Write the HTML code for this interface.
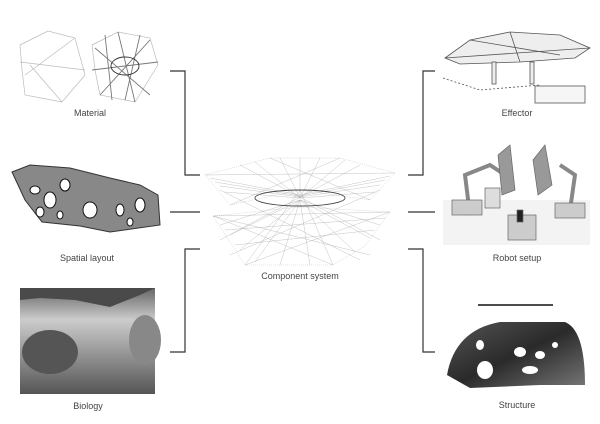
<!DOCTYPE html>
<html><head><meta charset="utf-8"><style>
html,body{margin:0;padding:0;background:#fff}
svg{display:block}
text{font-family:"Liberation Sans",sans-serif;font-size:9px;fill:#444}
</style></head><body>
<svg width="600" height="424" viewBox="0 0 600 424">
<defs>
<linearGradient id="bio" x1="0" y1="0" x2="0" y2="1"><stop offset="0" stop-color="#666"/><stop offset="0.3" stop-color="#ccc"/><stop offset="0.6" stop-color="#999"/><stop offset="1" stop-color="#555"/></linearGradient>
<linearGradient id="dome" x1="0" y1="0" x2="1" y2="1"><stop offset="0" stop-color="#555"/><stop offset="0.5" stop-color="#2a2a2a"/><stop offset="1" stop-color="#777"/></linearGradient>
</defs>
<g stroke="#333" stroke-width="1.2" fill="none">
<polyline points="170,71 185,71 185,175 200,175"/>
<line x1="170" y1="212" x2="200" y2="212"/>
<polyline points="200,249 185,249 185,352 170,352"/>
<polyline points="435,71 423,71 423,175 408,175"/>
<line x1="408" y1="212" x2="435" y2="212"/>
<polyline points="408,249 423,249 423,352 435,352"/>
</g>
<!-- Material -->
<g stroke="#bbb" stroke-width="0.7" fill="none">
<polygon points="20,45 48,31 75,38 85,75 62,102 25,95 22,70"/>
<line x1="20" y1="62" x2="85" y2="70"/><line x1="25" y1="75" x2="75" y2="38"/><line x1="30" y1="65" x2="62" y2="102"/>
<polygon points="92,45 118,32 150,38 158,65 135,102 100,95 95,70"/>
</g>
<g stroke="#777" stroke-width="0.9" fill="none">
<line x1="95" y1="48" x2="150" y2="95"/><line x1="100" y1="95" x2="150" y2="40"/><line x1="118" y1="32" x2="135" y2="102"/><line x1="92" y1="70" x2="158" y2="62"/><line x1="105" y1="35" x2="112" y2="100"/><line x1="140" y1="35" x2="125" y2="100"/>
<ellipse cx="125" cy="66" rx="14" ry="9" stroke="#333"/>
</g>
<!-- Spatial layout -->
<g>
<polygon points="12,172 30,165 70,168 110,178 140,185 158,195 160,225 110,232 80,226 42,222 25,200" fill="#888" stroke="#333" stroke-width="1"/>
<g fill="#fff" stroke="#111" stroke-width="1"><ellipse cx="35" cy="190" rx="5" ry="4"/><ellipse cx="50" cy="200" rx="6" ry="8"/><ellipse cx="65" cy="185" rx="5" ry="6"/><ellipse cx="40" cy="212" rx="4" ry="5"/><ellipse cx="90" cy="210" rx="7" ry="8"/><ellipse cx="120" cy="210" rx="4" ry="6"/><ellipse cx="140" cy="205" rx="5" ry="7"/><ellipse cx="130" cy="222" rx="3" ry="4"/><ellipse cx="60" cy="215" rx="3" ry="4"/></g>
</g>
<!-- Biology -->
<rect x="20" y="288" width="135" height="106" fill="url(#bio)"/>
<polygon points="20,288 155,288 140,295 110,307 75,300 40,298 20,300" fill="#4a4a4a"/>
<ellipse cx="50" cy="352" rx="28" ry="22" fill="#555"/>
<ellipse cx="145" cy="340" rx="16" ry="25" fill="#888"/>
<!-- Component system -->
<g stroke="#aaa" stroke-width="0.35" fill="none">
<polygon points="205,175 270,158 340,158 395,173 370,200 300,190 230,205" stroke-dasharray="1,1"/>
<polygon points="213,216 300,207 390,212 365,246 333,265 245,265" stroke-dasharray="1,1"/>
<path d="M205,175 L395,173 M230,205 L340,158 M270,158 L370,200 M213,216 L333,265 M245,265 L390,212 M213,216 L390,212 M300,190 L245,265 M300,190 L333,265 M220,190 L360,260 M380,190 L230,255 M240,165 L380,240 M360,165 L220,240
M210,178 L300,195 M215,182 L300,196 M220,186 L300,197 M225,192 L300,198 M390,176 L300,195 M385,180 L300,196 M380,185 L300,197 M375,192 L300,198
M280,158 L300,198 M300,158 L300,198 M320,158 L300,198 M255,162 L300,198 M345,160 L300,198
M220,225 L300,200 M230,235 L300,200 M240,250 L300,200 M255,262 L300,200 M280,265 L300,200 M310,265 L300,200 M380,225 L300,200 M370,238 L300,200 M355,252 L300,200
M213,216 L370,255 M225,230 L385,218 M235,245 L375,230"/>
<ellipse cx="300" cy="198" rx="45" ry="8" stroke="#444" stroke-width="0.9"/>
</g>
<!-- Effector -->
<g stroke="#555" stroke-width="0.8" fill="#eee">
<polygon points="445,58 470,40 510,32 560,35 590,48 575,58 520,62 460,64"/>
<line x1="470" y1="40" x2="560" y2="55"/><line x1="510" y1="32" x2="520" y2="62"/><line x1="445" y1="58" x2="590" y2="48"/>
<rect x="492" y="62" width="4" height="22"/><rect x="530" y="62" width="4" height="22"/>
<rect x="535" y="86" width="50" height="17" fill="#f6f6f6"/>
<polyline points="443,78 480,90 540,85" fill="none" stroke-dasharray="2,2"/>
</g>
<!-- Robot -->
<g stroke="#666" stroke-width="0.7">
<rect x="443" y="200" width="147" height="45" fill="#f3f3f3" stroke="none"/>
<path d="M470,215 L465,175 L490,165 L505,175" fill="none" stroke="#888" stroke-width="4"/>
<path d="M570,210 L575,175 L560,165" fill="none" stroke="#888" stroke-width="4"/>
<polygon points="498,155 510,145 515,190 502,195" fill="#999"/>
<polygon points="533,160 545,145 552,185 538,195" fill="#999"/>
<rect x="452" y="200" width="30" height="15" fill="#ccc"/>
<rect x="485" y="188" width="15" height="20" fill="#ddd"/>
<rect x="508" y="215" width="28" height="25" fill="#ccc"/>
<rect x="517" y="210" width="6" height="12" fill="#222"/>
<rect x="555" y="203" width="30" height="15" fill="#ccc"/>
</g>
<!-- Structure -->
<line x1="478" y1="305" x2="553" y2="305" stroke="#111" stroke-width="1.5"/>
<path d="M447,375 Q455,330 500,322 L565,322 Q585,330 585,385 L540,385 L470,388 Z" fill="url(#dome)"/>
<g fill="#fff"><ellipse cx="480" cy="345" rx="4" ry="5"/><ellipse cx="485" cy="370" rx="8" ry="9"/><ellipse cx="520" cy="352" rx="6" ry="5"/><ellipse cx="540" cy="355" rx="5" ry="4"/><ellipse cx="530" cy="370" rx="8" ry="4"/><ellipse cx="555" cy="345" rx="3" ry="3"/></g>
<text x="90" y="116" text-anchor="middle">Material</text>
<text x="87" y="261" text-anchor="middle">Spatial layout</text>
<text x="88" y="409" text-anchor="middle">Biology</text>
<text x="300" y="279" text-anchor="middle">Component system</text>
<text x="517" y="116" text-anchor="middle">Effector</text>
<text x="517" y="261" text-anchor="middle">Robot setup</text>
<text x="517" y="408" text-anchor="middle">Structure</text>
</svg>
</body></html>
